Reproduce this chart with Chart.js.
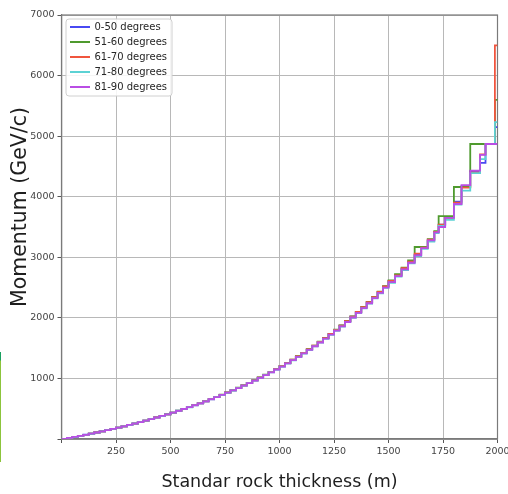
<!DOCTYPE html>
<html>
<head>
<meta charset="utf-8">
<script src="https://cdn.jsdelivr.net/npm/chart.js@4.4.1/dist/chart.umd.min.js"></script>
<style>
  html, body { margin: 0; padding: 0; background: #ffffff; }
  #wrap { position: relative; width: 508px; height: 494px; overflow: hidden; }
  #edge { position: absolute; left: 0; top: 352px; width: 1px; height: 110px;
          background: linear-gradient(#1aa060 0px, #1aa060 8px, #8cc43c 9px, #8cc43c 110px); }
</style>
</head>
<body>
<div id="wrap">
  <canvas id="c" width="508" height="494"></canvas>
  <div id="edge"></div>
</div>
<script>
// Rock thickness (m) where each step starts
const thickness = [0,25,50,75,100,125,150,175,200,225,250,275,300,325,350,375,400,425,450,475,
  500,525,550,575,600,625,650,675,700,725,750,775,800,825,850,875,900,925,950,975,
  1000,1025,1050,1075,1100,1125,1150,1175,1200,1225,1250,1275,1300,1325,1350,1375,1400,1425,1450,1475,
  1500,1530,1560,1590,1620,1650,1680,1710,1730,1760,1800,1835,1875,1920,1945,1988,2000];

// Momentum (GeV/c) per zenith-angle band
const deg0_50 = [0,17,34,52,70,88,107,127,147,168,189,210,233,256,280,305,330,356,382,409,
  437,466,496,527,558,590,623,657,692,728,766,804,843,884,925,968,1012,1057,1104,1151,
  1201,1252,1306,1361,1418,1477,1537,1600,1665,1731,1800,1870,1942,2018,2094,2173,2255,2338,2425,2514,
  2605,2700,2810,2920,3040,3150,3270,3420,3540,3660,3920,4180,4420,4560,4870,5150,5150];
const deg51_60 = [0,17,34,51,69,88,107,126,146,167,188,210,232,255,279,304,330,356,382,409,
  437,466,496,527,559,591,625,659,694,731,768,806,846,886,928,971,1015,1061,1107,1155,
  1204,1256,1310,1366,1423,1482,1543,1606,1670,1737,1805,1876,1948,2024,2100,2180,2262,2346,2434,2524,
  2620,2720,2830,2950,3170,3170,3300,3430,3680,3680,4160,4160,4870,4870,4870,5600,5600];
const deg61_70 = [0,17,34,51,69,88,107,126,146,167,188,210,232,255,279,304,329,355,381,408,
  436,465,495,526,558,590,623,657,692,728,766,804,844,884,926,969,1013,1058,1105,1153,
  1202,1254,1308,1363,1420,1479,1540,1602,1667,1734,1802,1872,1946,2020,2097,2177,2258,2343,2430,2519,
  2610,2700,2820,2930,3060,3160,3290,3420,3540,3650,3900,4150,4400,4700,4870,6500,6500];
const deg71_80 = [0,17,33,51,69,87,106,126,146,166,187,209,231,254,278,303,328,354,380,407,
  435,464,494,524,556,588,621,655,690,726,763,801,840,880,922,964,1008,1053,1099,1146,
  1195,1246,1299,1354,1410,1468,1528,1590,1654,1720,1787,1856,1928,2002,2078,2156,2236,2320,2406,2495,
  2580,2680,2790,2900,3020,3140,3260,3400,3520,3620,3870,4100,4390,4620,4870,5230,5230];
const deg81_90 = [0,17,34,51,69,88,107,126,146,167,188,210,232,255,279,304,329,355,381,408,
  436,465,495,525,557,589,622,656,691,727,764,802,841,881,923,965,1009,1054,1100,1147,
  1196,1248,1301,1356,1413,1471,1531,1593,1657,1723,1790,1860,1932,2006,2082,2160,2241,2325,2411,2500,
  2590,2690,2800,2910,3030,3150,3280,3410,3500,3650,3880,4190,4430,4690,4870,4870,4870];

const seriesLabels = ['0-50 degrees','51-60 degrees','61-70 degrees','71-80 degrees','81-90 degrees'];
const seriesValues = [deg0_50, deg51_60, deg61_70, deg71_80, deg81_90];
const seriesColors = ['#4848f2','#4f9a2e','#f0553e','#5cd2d4','#b94ee4'];

const xTicks = [250,500,750,1000,1250,1500,1750,2000];
const yTicks = [1000,2000,3000,4000,5000,6000,7000];

const datasets = seriesValues.map((vals, i) => ({
  label: seriesLabels[i],
  data: thickness.map((x, j) => ({x: x, y: vals[j]})),
  borderColor: seriesColors[i],
  backgroundColor: seriesColors[i],
  borderWidth: 1.8,
  pointRadius: 0,
  stepped: 'before',
  fill: false,
  order: seriesValues.length - i
}));

const FONT = '"DejaVu Sans", "Liberation Sans", sans-serif';

const decor = {
  id: 'decor',
  beforeDatasetsDraw(chart) {
    const a = chart.chartArea, ctx = chart.ctx;
    ctx.save();
    ctx.strokeStyle = '#7a7a7a';
    ctx.lineWidth = 1.2;
    ctx.strokeRect(a.left, a.top, a.right - a.left, a.bottom - a.top);
    ctx.restore();
  },
  afterDraw(chart) {
    const ctx = chart.ctx;
    ctx.save();
    // legend box
    const bx = 66, by = 19, bw = 106, bh = 77, r = 3;
    ctx.beginPath();
    ctx.moveTo(bx + r, by);
    ctx.lineTo(bx + bw - r, by); ctx.quadraticCurveTo(bx + bw, by, bx + bw, by + r);
    ctx.lineTo(bx + bw, by + bh - r); ctx.quadraticCurveTo(bx + bw, by + bh, bx + bw - r, by + bh);
    ctx.lineTo(bx + r, by + bh); ctx.quadraticCurveTo(bx, by + bh, bx, by + bh - r);
    ctx.lineTo(bx, by + r); ctx.quadraticCurveTo(bx, by, bx + r, by);
    ctx.closePath();
    ctx.fillStyle = 'rgba(255,255,255,0.85)';
    ctx.fill();
    ctx.strokeStyle = '#d0d0d0';
    ctx.lineWidth = 1;
    ctx.stroke();
    ctx.font = '10px ' + FONT;
    ctx.textBaseline = 'middle';
    ctx.textAlign = 'left';
    chart.data.datasets.forEach((ds, i) => {
      const y = 27 + i * 15;
      ctx.strokeStyle = ds.borderColor;
      ctx.lineWidth = 2;
      ctx.beginPath(); ctx.moveTo(70, y); ctx.lineTo(90, y); ctx.stroke();
      ctx.fillStyle = '#262626';
      ctx.fillText(ds.label, 94.5, y + 0.5);
    });
    // axis titles
    ctx.fillStyle = '#1e1e1e';
    ctx.font = '17.5px ' + FONT;
    ctx.textAlign = 'center';
    ctx.textBaseline = 'alphabetic';
    ctx.fillText('Standar rock thickness (m)', 279.5, 486.5);
    ctx.translate(25.5, 207);
    ctx.rotate(-Math.PI / 2);
    ctx.font = '20.5px ' + FONT;
    ctx.fillText('Momentum (GeV/c)', 0, 0);
    ctx.restore();
  }
};

new Chart(document.getElementById('c'), {
  type: 'line',
  data: { datasets: datasets },
  options: {
    responsive: false,
    animation: false,
    devicePixelRatio: 1,
    layout: { padding: { top: 15, right: 10.5, left: 0, bottom: 0 } },
    plugins: { legend: { display: false }, tooltip: { enabled: false } },
    scales: {
      x: {
        type: 'linear', min: 0, max: 2000,
        afterFit(s) { s.height = 55; s.paddingLeft = 0; s.paddingRight = 0; },
        afterBuildTicks(s) { s.ticks = [0].concat(xTicks).map(v => ({value: v})); },
        ticks: {
          autoSkip: false, maxRotation: 0, padding: 3,
          color: '#444', font: { family: FONT, size: 9.5 },
          callback: v => (v === 0 ? '' : String(v))
        },
        grid: { color: '#b8b8b8', lineWidth: 1, tickLength: 4, tickColor: '#555' },
        border: { color: '#7a7a7a', width: 1.2 }
      },
      y: {
        type: 'linear', min: 0, max: 7000,
        afterFit(s) { s.width = 61.5; s.paddingTop = 0; s.paddingBottom = 0; },
        afterBuildTicks(s) { s.ticks = [0].concat(yTicks).map(v => ({value: v})); },
        ticks: {
          autoSkip: false, padding: 3,
          color: '#444', font: { family: FONT, size: 9.5 },
          callback: v => (v === 0 ? '' : String(v))
        },
        grid: { color: '#b8b8b8', lineWidth: 1, tickLength: 4, tickColor: '#555' },
        border: { color: '#7a7a7a', width: 1.2 }
      }
    }
  },
  plugins: [decor]
});
</script>
</body>
</html>
